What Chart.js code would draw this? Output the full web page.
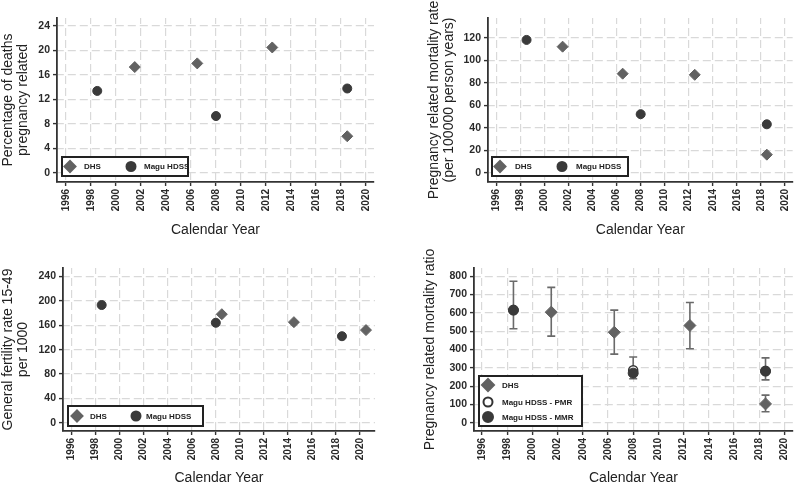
<!DOCTYPE html>
<html>
<head>
<meta charset="utf-8">
<script src="https://cdn.jsdelivr.net/npm/chart.js@4.4.1/dist/chart.umd.min.js"></script>
<style>
  body { margin: 0; background: #fff; }
  #wrap { position: relative; width: 800px; height: 486px; }
  .panel { position: absolute; width: 400px; height: 243px; }
</style>
</head>
<body>
<div id="wrap">
  <div class="panel" style="left:0;top:0"><canvas id="pctChart" width="400" height="243"></canvas></div>
  <div class="panel" style="left:400px;top:0"><canvas id="rateChart" width="400" height="243"></canvas></div>
  <div class="panel" style="left:0;top:243px"><canvas id="gfrChart" width="400" height="243"></canvas></div>
  <div class="panel" style="left:400px;top:243px"><canvas id="ratioChart" width="400" height="243"></canvas></div>
</div>
<script>
// x axis ticks (calendar years)
const yearTicks = [1996, 1998, 2000, 2002, 2004, 2006, 2008, 2010, 2012, 2014, 2016, 2018, 2020];

// panel 1 - percentage of deaths pregnancy related
const pctDhsYears = [2001.5, 2006.5, 2012.5, 2018.5];
const pctDhsValues = [17.3, 17.9, 20.5, 6.0];
const pctMaguYears = [1998.5, 2008, 2018.5];
const pctMaguValues = [13.4, 9.3, 13.8];
const pctTicks = [0, 4, 8, 12, 16, 20, 24];

// panel 2 - pregnancy related mortality rate
const rateDhsYears = [2001.5, 2006.5, 2012.5, 2018.5];
const rateDhsValues = [112, 88, 87, 16];
const rateMaguYears = [1998.5, 2008, 2018.5];
const rateMaguValues = [118, 52, 43];
const rateTicks = [0, 20, 40, 60, 80, 100, 120];

// panel 3 - general fertility rate
const gfrDhsYears = [2008.5, 2014.5, 2020.5];
const gfrDhsValues = [178, 165, 152];
const gfrMaguYears = [1998.5, 2008, 2018.5];
const gfrMaguValues = [193, 164, 142];
const gfrTicks = [0, 40, 80, 120, 160, 200, 240];

// panel 4 - pregnancy related mortality ratio (with CI)
const ratioDhsYears = [2001.5, 2006.5, 2012.5, 2018.5];
const ratioDhsValues = [604, 494, 531, 103];
const ratioDhsLow = [473, 375, 404, 60];
const ratioDhsHigh = [739, 615, 657, 151];
const ratioPmrYears = [1998.5, 2008, 2018.5];
const ratioPmrValues = [615, 287, 282];
const ratioMmrYears = [1998.5, 2008, 2018.5];
const ratioMmrValues = [615, 271, 282];
const ratioMmrLow = [513, 240, 234];
const ratioMmrHigh = [773, 359, 354];
const ratioTicks = [0, 100, 200, 300, 400, 500, 600, 700, 800];

const FONT = "'Liberation Sans', Arial, sans-serif";
const DHS_COLOR = '#626262';
const MAGU_COLOR = '#3a3a3a';

function toPoints(xs, ys) {
  return xs.map((x, i) => ({ x: x, y: ys[i] }));
}

// draws the boxed legend inside the plot, like the stata graphs
const boxLegend = {
  id: 'boxLegend',
  afterDraw(chart, args, opts) {
    const ctx = chart.ctx;
    ctx.save();
    ctx.fillStyle = '#fff';
    ctx.fillRect(opts.box[0], opts.box[1], opts.box[2], opts.box[3]);
    ctx.lineWidth = 2;
    ctx.strokeStyle = '#222';
    ctx.strokeRect(opts.box[0], opts.box[1], opts.box[2], opts.box[3]);
    opts.items.forEach(item => {
      const ds = chart.data.datasets[item.ds];
      ctx.fillStyle = ds.backgroundColor;
      ctx.strokeStyle = ds.borderColor;
      Chart.helpers.drawPoint(ctx, {
        pointStyle: ds.pointStyle,
        radius: ds.pointRadius,
        borderWidth: ds.borderWidth,
        rotation: 0
      }, item.x, item.y);
      ctx.fillStyle = '#222';
      ctx.font = 'bold 8px ' + FONT;
      ctx.textBaseline = 'middle';
      ctx.textAlign = 'left';
      ctx.fillText(ds.label, item.tx, item.y + 0.5);
    });
    ctx.restore();
  }
};

// vertical confidence interval bars, drawn under the markers
const errorBars = {
  id: 'errorBars',
  beforeDatasetsDraw(chart) {
    const ctx = chart.ctx;
    const xs = chart.scales.x, ys = chart.scales.y;
    ctx.save();
    ctx.strokeStyle = '#6a6a6a';
    ctx.lineWidth = 1.6;
    chart.data.datasets.forEach(ds => {
      if (!ds.errLow) return;
      ds.data.forEach((p, i) => {
        const px = xs.getPixelForValue(p.x);
        const lo = ys.getPixelForValue(ds.errLow[i]);
        const hi = ys.getPixelForValue(ds.errHigh[i]);
        ctx.beginPath();
        ctx.moveTo(px, lo); ctx.lineTo(px, hi);
        ctx.moveTo(px - 4, lo); ctx.lineTo(px + 4, lo);
        ctx.moveTo(px - 4, hi); ctx.lineTo(px + 4, hi);
        ctx.stroke();
      });
    });
    ctx.restore();
  }
};

function makePanel(canvasId, datasets, cfg) {
  const ctx = document.getElementById(canvasId).getContext('2d');
  return new Chart(ctx, {
    type: 'scatter',
    data: { datasets: datasets },
    options: {
      responsive: false,
      animation: false,
      layout: { padding: { left: cfg.padLeft, right: cfg.padRight, top: cfg.top, bottom: 0 } },
      plugins: {
        legend: { display: false },
        tooltip: { enabled: false },
        boxLegend: cfg.legend
      },
      scales: {
        x: {
          type: 'linear',
          min: cfg.xMin,
          max: cfg.xMax,
          afterFit: scale => { scale.height = 243 - cfg.bottom; },
          afterBuildTicks: scale => { scale.ticks = yearTicks.map(v => ({ value: v })); },
          ticks: {
            autoSkip: false,
            minRotation: 90,
            maxRotation: 90,
            padding: 3,
            color: '#2a2a2a',
            font: { size: 10, weight: 'bold', family: "'Liberation Sans Narrow', " + FONT },
            callback: v => String(v)
          },
          grid: { color: '#d9d9d9', lineWidth: 1.2, tickLength: 4, tickColor: '#333', tickWidth: 1.4 },
          border: { display: true, color: '#333', width: 1.8, dash: [8, 4], dashOffset: 2 },
          title: {
            display: true,
            text: 'Calendar Year',
            color: '#222',
            font: { size: 14, family: FONT, lineHeight: 1.15 },
            padding: { top: 0, bottom: cfg.xTitlePad }
          }
        },
        y: {
          min: cfg.yMin,
          max: cfg.yMax,
          afterFit: scale => { scale.width = cfg.left - cfg.padLeft; },
          afterBuildTicks: scale => { scale.ticks = cfg.yTicks.map(v => ({ value: v })); },
          ticks: {
            padding: 3,
            color: '#2a2a2a',
            font: { size: 10.5, weight: 'bold', family: FONT }
          },
          grid: { color: '#d9d9d9', lineWidth: 1.2, tickLength: 4, tickColor: '#333', tickWidth: 1.4 },
          border: { display: true, color: '#333', width: 1.8, dash: [8, 4], dashOffset: 2 },
          title: {
            display: true,
            text: cfg.yTitle,
            color: '#222',
            font: { size: 14, family: FONT, lineHeight: 1.1 },
            padding: { top: cfg.yTitlePad, bottom: 0 }
          }
        }
      }
    },
    plugins: [errorBars, boxLegend]
  });
}

function dhsSet(xs, ys, r) {
  return {
    label: 'DHS', data: toPoints(xs, ys),
    pointStyle: 'rectRot', pointRadius: r || 5.5,
    backgroundColor: DHS_COLOR, borderColor: DHS_COLOR, borderWidth: 1, order: 2
  };
}
function maguSet(label, xs, ys, r) {
  return {
    label: label, data: toPoints(xs, ys),
    pointStyle: 'circle', pointRadius: r || 4.5,
    backgroundColor: MAGU_COLOR, borderColor: MAGU_COLOR, borderWidth: 1, order: 0
  };
}

makePanel('pctChart', [
  dhsSet(pctDhsYears, pctDhsValues),
  maguSet('Magu HDSS', pctMaguYears, pctMaguValues)
], {
  padLeft: 0, left: 57, padRight: 26, top: 18, bottom: 182,
  xMin: 1995.28, xMax: 2020.64, yMin: -1.47, yMax: 25.31, yTicks: pctTicks,
  yTitle: ['Percentage of deaths', 'pregnancy related'], yTitlePad: 0, xTitlePad: 5,
  legend: { box: [62, 157, 126, 19], items: [
    { ds: 0, x: 70, y: 166.5, tx: 84 },
    { ds: 1, x: 131, y: 166.5, tx: 144 }
  ] }
});

makePanel('rateChart', [
  dhsSet(rateDhsYears, rateDhsValues),
  maguSet('Magu HDSS', rateMaguYears, rateMaguValues)
], {
  padLeft: 0, left: 88, padRight: 2, top: 18, bottom: 182,
  xMin: 1995.29, xMax: 2020.65, yMin: -8.3, yMax: 137.5, yTicks: rateTicks,
  yTitle: ['Pregnancy related mortality rate', '(per 100000 person years)'], yTitlePad: 26, xTitlePad: 5,
  legend: { box: [92, 157, 136, 19], items: [
    { ds: 0, x: 100, y: 166.5, tx: 115 },
    { ds: 1, x: 162, y: 166.5, tx: 176 }
  ] }
});

makePanel('gfrChart', [
  dhsSet(gfrDhsYears, gfrDhsValues),
  maguSet('Magu HDSS', gfrMaguYears, gfrMaguValues)
], {
  padLeft: 0, left: 63, padRight: 25, top: 25, bottom: 188,
  xMin: 1995.28, xMax: 2021.25, yMin: -13.1, yMax: 253.6, yTicks: gfrTicks,
  yTitle: ['General fertility rate 15-49', 'per 1000'], yTitlePad: 0, xTitlePad: 0,
  legend: { box: [68, 163, 135, 20], items: [
    { ds: 0, x: 77, y: 173, tx: 90 },
    { ds: 1, x: 136, y: 173, tx: 146 }
  ] }
});

const ratioDhs = dhsSet(ratioDhsYears, ratioDhsValues, 6);
ratioDhs.errLow = ratioDhsLow;
ratioDhs.errHigh = ratioDhsHigh;
const ratioMmr = maguSet('Magu HDSS - MMR', ratioMmrYears, ratioMmrValues, 5);
ratioMmr.errLow = ratioMmrLow;
ratioMmr.errHigh = ratioMmrHigh;
const ratioPmr = {
  label: 'Magu HDSS - PMR', data: toPoints(ratioPmrYears, ratioPmrValues),
  pointStyle: 'circle', pointRadius: 4.5,
  backgroundColor: '#ffffff', borderColor: '#333', borderWidth: 1.5, order: 1
};

makePanel('ratioChart', [ratioDhs, ratioPmr, ratioMmr], {
  padLeft: 0, left: 74, padRight: 2, top: 25, bottom: 188,
  xMin: 1995.37, xMax: 2020.68, yMin: -45, yMax: 845, yTicks: ratioTicks,
  yTitle: 'Pregnancy related mortality ratio', yTitlePad: 22, xTitlePad: 0,
  legend: { box: [79, 133, 103, 50], items: [
    { ds: 0, x: 88, y: 142, tx: 102 },
    { ds: 1, x: 88, y: 159, tx: 102 },
    { ds: 2, x: 88, y: 174, tx: 102 }
  ] }
});
</script>
</body>
</html>
